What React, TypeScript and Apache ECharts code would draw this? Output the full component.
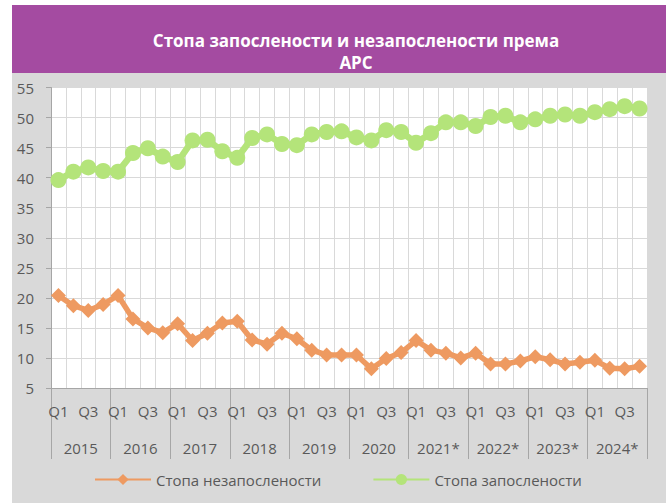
import React, { useEffect, useRef } from 'react';
import * as echarts from 'echarts';

const years = ['2015', '2016', '2017', '2018', '2019', '2020', '2021*', '2022*', '2023*', '2024*'];
const quarterNames = ['Q1', 'Q2', 'Q3', 'Q4'];

// Стопа незапослености (%)
const unemployment = [
  20.4, 18.7, 17.9, 18.9,
  20.4, 16.5, 15.0, 14.2,
  15.7, 12.9, 14.1, 15.8,
  16.1, 13.0, 12.3, 14.1,
  13.2, 11.3, 10.5, 10.5,
  10.5, 8.2, 9.9, 10.9,
  12.9, 11.3, 10.8, 10.0,
  10.8, 9.0, 9.0, 9.5,
  10.2, 9.7, 9.0, 9.3,
  9.6, 8.3, 8.2, 8.6,
];

// Стопа запослености (%)
const employment = [
  39.6, 41.0, 41.7, 41.1,
  41.0, 44.1, 44.9, 43.5,
  42.6, 46.2, 46.3, 44.4,
  43.3, 46.6, 47.2, 45.6,
  45.4, 47.2, 47.6, 47.7,
  46.7, 46.2, 47.9, 47.6,
  45.8, 47.4, 49.2, 49.2,
  48.6, 50.1, 50.3, 49.2,
  49.7, 50.3, 50.5, 50.3,
  50.9, 51.4, 51.9, 51.5,
];

const quarterLabels = years.flatMap(() => quarterNames);

const titleLines = ['Стопа запослености и незапослености према', 'АРС'];
const seriesNames = ['Стопа незапослености', 'Стопа запослености'];

const labelColor = '#595959';
const font = '"Open Sans", "Noto Sans", sans-serif';

export default function App() {
  const ref = useRef<HTMLDivElement>(null);

  useEffect(() => {
    if (!ref.current) return;
    const chart = echarts.init(ref.current, undefined, { renderer: 'svg' });
    chart.setOption({
      animation: false,
      backgroundColor: 'transparent',
      textStyle: { fontFamily: font },
      graphic: [
        {
          type: 'rect',
          shape: { x: 12, y: 5, width: 654, height: 68 },
          style: { fill: '#a44ba1' },
          silent: true,
        },
        {
          type: 'text',
          x: 356,
          y: 40,
          style: {
            text: titleLines[0],
            fill: '#ffffff',
            font: `bold 17px ${font}`,
            textAlign: 'center',
            textVerticalAlign: 'middle',
          },
        },
        {
          type: 'text',
          x: 356,
          y: 62,
          style: {
            text: titleLines[1],
            fill: '#ffffff',
            font: `bold 17px ${font}`,
            textAlign: 'center',
            textVerticalAlign: 'middle',
          },
        },
      ],
      grid: {
        left: 51,
        right: 24,
        top: 87.5,
        bottom: 115,
        show: true,
        backgroundColor: '#ffffff',
        borderWidth: 0,
      },
      legend: {
        left: 89,
        top: 467,
        itemWidth: 56,
        itemHeight: 14,
        itemGap: 51,
        textStyle: { color: labelColor, fontSize: 15, fontFamily: font },
        data: seriesNames,
      },
      xAxis: [
        {
          type: 'category',
          data: quarterLabels,
          boundaryGap: true,
          position: 'bottom',
          axisLine: { show: true, lineStyle: { color: '#a6a6a6', width: 1 } },
          axisTick: { show: false },
          axisLabel: { interval: 1, color: labelColor, fontSize: 15, margin: 15, fontFamily: font },
          splitLine: { show: true, interval: 0, lineStyle: { color: '#d9d9d9', width: 1 } },
        },
        {
          type: 'category',
          data: years,
          boundaryGap: true,
          position: 'bottom',
          axisLine: { show: false },
          axisTick: { show: true, length: 71, interval: 0, lineStyle: { color: '#a6a6a6', width: 1 } },
          axisLabel: { interval: 0, color: labelColor, fontSize: 15, margin: 52, fontFamily: font },
          splitLine: { show: false },
        },
      ],
      yAxis: {
        type: 'value',
        min: 5,
        max: 55,
        interval: 5,
        axisLine: { show: true, lineStyle: { color: '#a6a6a6', width: 1 } },
        axisTick: { show: true, length: 5, lineStyle: { color: '#a6a6a6' } },
        axisLabel: { color: labelColor, fontSize: 15, margin: 17, fontFamily: font },
        splitLine: { show: true, lineStyle: { color: '#d9d9d9', width: 1 } },
      },
      series: [
        {
          name: seriesNames[0],
          type: 'line',
          xAxisIndex: 0,
          data: unemployment,
          symbol: 'diamond',
          symbolSize: 15,
          showSymbol: true,
          showAllSymbol: true,
          lineStyle: { color: '#ee9a61', width: 5.5 },
          itemStyle: { color: '#ee9a61' },
        },
        {
          name: seriesNames[1],
          type: 'line',
          xAxisIndex: 0,
          data: employment,
          symbol: 'circle',
          symbolSize: 16,
          showSymbol: true,
          showAllSymbol: true,
          lineStyle: { color: '#b4e47a', width: 6.5 },
          itemStyle: { color: '#b4e47a' },
        },
      ],
    });
    return () => chart.dispose();
  }, []);

  return (
    <div style={{ position: 'fixed', left: 0, top: 0, width: 671, height: 503, background: '#ffffff' }}>
      <div style={{ position: 'absolute', left: 12, top: 5, width: 654, height: 498, background: '#d9d9d9' }} />
      <div ref={ref} style={{ position: 'absolute', left: 0, top: 0, width: 671, height: 503 }} />
    </div>
  );
}
